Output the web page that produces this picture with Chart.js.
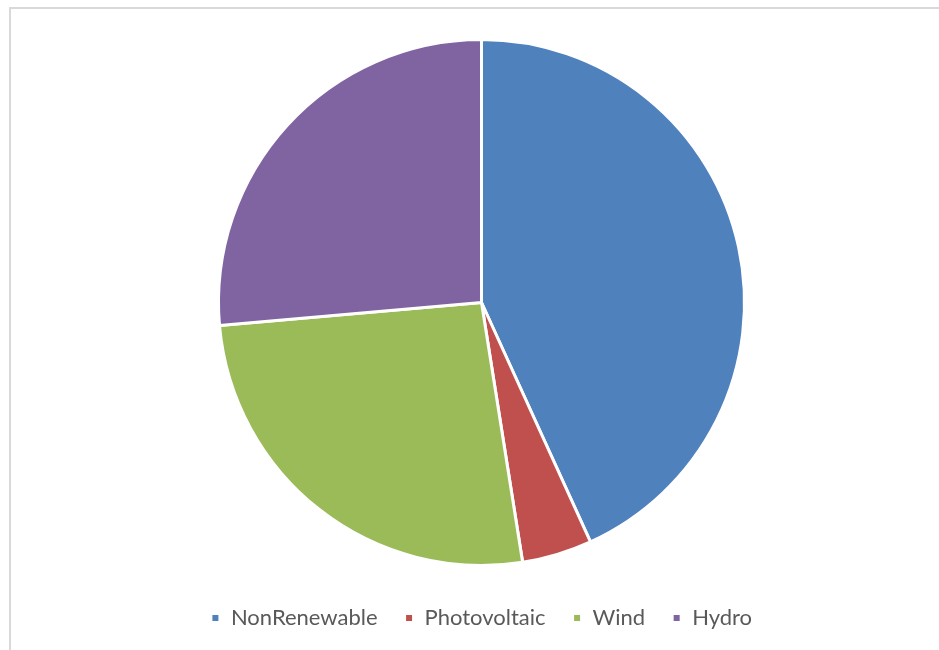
<!DOCTYPE html>
<html>
<head>
<meta charset="utf-8">
<script src="https://cdn.jsdelivr.net/npm/chart.js@4/dist/chart.umd.min.js"></script>
<style>
  html, body { margin: 0; padding: 0; background: #ffffff; }
  #wrap { position: relative; width: 939px; height: 650px; overflow: hidden; }
  #frame { position: absolute; left: 9px; top: 7px; width: 2000px; height: 2000px;
           border-top: 2px solid #d9d9d9; border-left: 2px solid #d9d9d9; box-sizing: border-box; }
  #c { position: absolute; left: 0; top: 0; }
</style>
</head>
<body>
<div id="wrap">
  <div id="frame"></div>
  <canvas id="c" width="939" height="650"></canvas>
</div>
<script>
const categories = ["NonRenewable", "Photovoltaic", "Wind", "Hydro"];
const shares = [43.2, 4.3, 26.1, 26.4];
const sliceColors = ["#4F81BD", "#C0504D", "#9BBB59", "#8064A2"];

new Chart(document.getElementById("c"), {
  type: "pie",
  data: {
    labels: categories,
    datasets: [{
      data: shares,
      backgroundColor: sliceColors,
      borderColor: "#ffffff",
      borderWidth: 3
    }]
  },
  options: {
    responsive: false,
    animation: false,
    radius: 263,
    layout: { padding: { top: 25, bottom: 11, left: 24, right: 0 } },
    plugins: {
      tooltip: { enabled: false },
      legend: {
        position: "bottom",
        labels: {
          boxWidth: 9,
          boxHeight: 9,
          padding: 27,
          color: "#595959",
          font: { family: "Lato, 'Open Sans', sans-serif", size: 22 }
        }
      }
    }
  }
});
</script>
</body>
</html>
